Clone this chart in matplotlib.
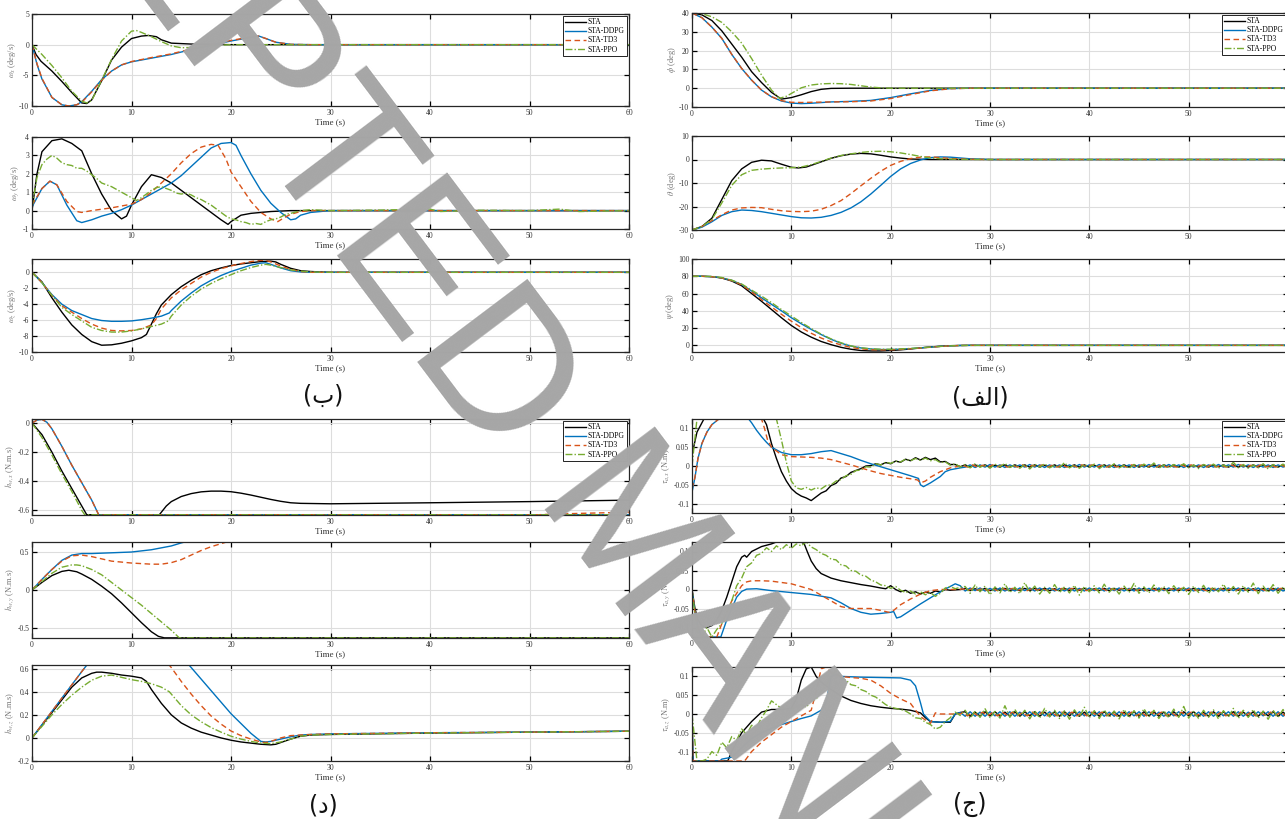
import numpy as np
import matplotlib
matplotlib.use('Agg')
import matplotlib.pyplot as plt
from matplotlib.ticker import FuncFormatter

plt.rcParams['font.family'] = 'Liberation Serif'
plt.rcParams['mathtext.fontset'] = 'stix'
plt.rcParams['axes.unicode_minus'] = False

W, H = 1285, 819

labels = ['STA', 'STA-DDPG', 'STA-TD3', 'STA-PPO']
colors = ['black', '#0072BD', '#D95319', '#77AC30']
styles = ['-', '-', (0, (4, 2.5)), (0, (5, 1.5, 1, 1.5))]

# ---------------- angular rates (deg/s) ----------------
wx_sta = [(0, 0), (0.4, -1.6), (0.9, -2.7), (2, -4.3), (3, -6.0), (4, -7.8), (5, -9.5), (5.5, -9.6),
          (6, -9.0), (7, -5.9), (8, -2.5), (9, -0.4), (10, 1.0), (11, 1.4), (11.7, 1.5), (12.5, 1.3),
          (13, 0.8), (14, 0.25), (16, 0.1), (20, 0), (60, 0)]
wx_ddpg = [(0, 0), (0.5, -3.2), (1, -5.6), (2, -8.6), (3, -9.8), (3.7, -10.0), (4.5, -9.8), (5, -9.3),
           (6, -7.6), (7, -5.7), (8, -4.3), (9, -3.3), (10, -2.8), (12, -2.2), (14, -1.6), (16, -0.8),
           (18, -0.1), (20, 0.6), (22, 1.2), (22.8, 1.4), (23.5, 1.0), (24.5, 0.4), (26, 0.05), (28, 0), (60, 0)]
wx_td3 = [(0, 0), (0.5, -3.1), (1, -5.5), (2, -8.6), (3, -9.8), (3.7, -10.0), (4.5, -9.8), (5, -9.4),
          (6, -7.7), (7, -5.8), (8, -4.3), (9, -3.3), (10, -2.75), (12, -2.1), (14, -1.5), (16, -0.7),
          (18, 0.0), (20, 0.7), (22, 1.25), (22.8, 1.4), (23.5, 1.0), (24.5, 0.4), (26, 0.05), (28, 0), (60, 0)]
wx_ppo = [(0, 0), (1, -1.6), (2, -3.4), (3, -5.4), (4, -7.6), (5, -9.2), (5.5, -9.5), (6, -9.1), (7, -5.8),
          (8, -2.4), (9, 0.6), (10, 2.2), (10.5, 2.3), (11, 2.0), (12, 1.3), (13, 0.5), (14, -0.2),
          (15, -0.5), (16, -0.45), (18, -0.15), (20, 0), (60, 0)]

wy_sta = [(0, 0.0), (0.5, 2.0), (1, 3.2), (2, 3.8), (3, 3.9), (4, 3.65), (5, 3.25), (6, 2.0), (7, 0.9),
          (8, 0.0), (9, -0.45), (9.5, -0.3), (10, 0.3), (11, 1.3), (12, 1.95), (13, 1.8), (14, 1.5),
          (15, 1.1), (16, 0.7), (17, 0.3), (18, -0.1), (19, -0.5), (19.7, -0.75), (20, -0.6), (21, -0.25),
          (22, -0.15), (24, -0.05), (26, 0), (60, 0)]
wy_ddpg = [(0, 0.2), (1, 1.2), (1.8, 1.6), (2.5, 1.4), (3.5, 0.3), (4.5, -0.55), (5, -0.65), (6, -0.5),
           (7, -0.3), (8, -0.15), (9, 0.05), (10, 0.3), (11, 0.6), (12, 0.9), (13, 1.2), (14, 1.5),
           (15, 1.9), (16, 2.4), (17, 2.9), (18, 3.4), (19, 3.65), (20, 3.7), (20.5, 3.55), (21, 3.0),
           (22, 2.0), (23, 1.1), (24, 0.4), (25, -0.1), (26, -0.5), (26.5, -0.45), (27, -0.25),
           (28, -0.1), (30, 0), (60, 0)]
wy_td3 = [(0, 0.3), (1, 1.2), (1.8, 1.6), (2.5, 1.4), (3.5, 0.5), (4.5, -0.05), (5, -0.1), (6, 0.0),
          (8, 0.15), (10, 0.35), (11, 0.6), (12, 1.0), (13, 1.5), (14, 2.0), (15, 2.6), (16, 3.1),
          (17, 3.45), (18, 3.6), (18.7, 3.55), (19.5, 2.8), (20, 2.1), (21, 1.3), (22, 0.5), (23, -0.1),
          (24, -0.45), (24.7, -0.6), (25.3, -0.4), (26, -0.2), (27, -0.05), (28, 0), (60, 0)]
wy_ppo = [(0, 0.2), (0.5, 1.8), (1, 2.5), (1.5, 2.8), (2, 3.0), (2.5, 2.85), (3, 2.6), (3.5, 2.5),
          (4, 2.45), (4.5, 2.3), (5, 2.3), (5.5, 2.15), (6, 1.95), (6.5, 1.75), (7, 1.5), (7.5, 1.4),
          (8, 1.3), (8.5, 1.15), (9, 1.0), (9.5, 0.85), (10, 0.7), (10.5, 0.55), (11, 0.7), (11.5, 0.9),
          (12, 1.1), (12.5, 1.25), (13, 1.3), (13.5, 1.2), (14, 1.1), (14.5, 0.95), (15, 0.9),
          (15.5, 0.95), (16, 0.85), (16.5, 0.7), (17, 0.6), (17.5, 0.45), (18, 0.3), (18.5, 0.1),
          (19, -0.1), (19.5, -0.3), (20, -0.45), (20.5, -0.5), (21, -0.6), (21.5, -0.65), (22, -0.75),
          (22.5, -0.7), (23, -0.75), (23.5, -0.6), (24, -0.5), (24.5, -0.45), (25, -0.35), (25.5, -0.2),
          (26, -0.15), (27, 0.0), (28, 0.05), (30, 0.0), (35, 0.03), (40, 0.08), (41, -0.05), (45, 0.02),
          (50, 0.0), (53, 0.08), (55, -0.05), (60, 0.0)]

wz_sta = [(0, 0), (1, -1.2), (2, -3.2), (3, -5.0), (4, -6.6), (5, -7.8), (6, -8.7), (7, -9.15), (8, -9.1),
          (9, -8.9), (10, -8.6), (11, -8.2), (11.5, -7.8), (12, -6.5), (12.5, -5.2), (13, -4.1),
          (14, -2.8), (15, -1.8), (16, -1.0), (17, -0.3), (18, 0.2), (19, 0.55), (20, 0.85), (21, 1.05),
          (22, 1.2), (23, 1.35), (24, 1.4), (24.5, 1.3), (25, 1.0), (26, 0.5), (27, 0.2), (28, 0.1),
          (30, 0), (60, 0)]
wz_ddpg = [(0, 0), (1, -1.3), (2, -2.8), (3, -4.0), (4, -4.8), (5, -5.3), (6, -5.8), (7, -6.05),
           (8, -6.15), (9, -6.15), (10, -6.1), (11, -5.95), (12, -5.75), (13, -5.5), (13.8, -5.1),
           (14, -4.8), (15, -3.6), (16, -2.6), (17, -1.7), (18, -1.0), (19, -0.4), (20, 0.1), (21, 0.5),
           (22, 0.9), (23, 1.15), (23.5, 1.2), (24, 1.0), (25, 0.55), (26, 0.2), (27, 0.05), (28, 0), (60, 0)]
wz_td3 = [(0, 0), (1, -1.3), (2, -2.9), (3, -4.2), (4, -5.0), (5, -5.8), (6, -6.5), (7, -7.0), (8, -7.3),
          (9, -7.35), (10, -7.3), (11, -7.1), (12, -6.6), (12.5, -5.8), (13, -4.6), (14, -3.2),
          (15, -2.2), (16, -1.4), (17, -0.6), (18, 0.0), (19, 0.45), (20, 0.8), (21, 1.1), (22, 1.35),
          (23, 1.5), (23.5, 1.5), (24, 1.3), (25, 0.8), (26, 0.35), (27, 0.1), (28, 0), (60, 0)]
wz_ppo = [(0, 0), (1, -1.3), (2, -2.9), (3, -4.4), (4, -5.3), (5, -6.1), (6, -6.9), (7, -7.3), (8, -7.5),
          (9, -7.5), (10, -7.35), (11, -7.1), (12, -6.8), (13, -6.5), (13.7, -6.1), (14, -5.5),
          (15, -4.1), (16, -3.0), (17, -2.1), (18, -1.4), (19, -0.8), (20, -0.3), (21, 0.2), (22, 0.6),
          (23, 0.9), (23.5, 1.0), (24, 0.9), (25, 0.6), (26, 0.3), (27, 0.15), (28, 0.05), (30, 0), (60, 0)]

# ---------------- attitude angles (deg) ----------------
phi_sta = [(0, 40), (1, 39), (2, 36), (3, 30.5), (4, 23.5), (5, 16.5), (6, 8.8), (7, 3.0), (8, -2.2),
           (9, -5.8), (10, -5.0), (11, -3.5), (12, -1.8), (13, -0.6), (14, -0.1), (16, 0), (60, 0)]
phi_ddpg = [(0, 40), (1, 37.5), (2, 32.5), (3, 26.5), (4, 18), (5, 10.5), (6, 4.3), (7, -1.0), (8, -4.6),
            (9, -6.8), (10, -7.9), (11, -8.2), (12, -8.0), (14, -7.3), (16, -7.0), (18, -6.5), (20, -5.0),
            (22, -3.0), (24, -1.2), (26, -0.2), (28, 0), (60, 0)]
phi_td3 = [(0, 40), (1, 37.5), (2, 32.5), (3, 26.5), (4, 18), (5, 10.5), (6, 4.3), (7, -1.0), (8, -4.5),
           (9, -6.6), (10, -7.5), (11, -7.6), (12, -7.5), (14, -7.3), (16, -7.2), (18, -6.8), (20, -5.5),
           (22, -3.4), (24, -1.4), (26, -0.3), (28, 0), (60, 0)]
phi_ppo = [(0, 40), (1, 39.6), (2, 38), (3, 35), (4, 30), (5, 24), (6, 15.8), (7, 7.0), (8, -1.0),
           (8.8, -5.4), (9.5, -4.3), (10, -2.8), (11, 0.2), (12, 1.7), (13, 2.3), (14, 2.5), (15, 2.4),
           (16, 2.0), (17, 1.3), (18, 0.6), (19, 0.2), (20, 0), (60, 0)]

theta_sta = [(0, -30), (1, -28.5), (2, -25), (3, -17), (4, -9), (5, -4), (6, -1.2), (7, -0.3), (8, -0.6),
             (9, -2), (10, -3.3), (10.7, -3.6), (11.5, -3.2), (12, -2.5), (13, -1.0), (14, 0.5), (15, 1.6),
             (16, 2.3), (17, 2.6), (18, 2.4), (19, 1.8), (20, 1.1), (21, 0.6), (22, 0.2), (24, 0), (60, 0)]
theta_ddpg = [(0, -30), (1, -28.8), (2, -26.5), (3, -23.8), (4, -22.2), (5, -21.5), (6, -21.7), (7, -22.2),
              (8, -22.9), (9, -23.6), (10, -24.3), (11, -24.8), (12, -24.9), (13, -24.6), (14, -23.8),
              (15, -22.5), (16, -20.6), (17, -18.0), (18, -14.7), (19, -11.0), (20, -7.2), (21, -4.0),
              (22, -1.7), (23, -0.2), (24, 0.8), (25, 1.1), (26, 1.0), (28, 0.3), (30, 0), (60, 0)]
theta_td3 = [(0, -30), (1, -28.5), (2, -26), (3, -23.5), (4, -21.5), (5, -20.6), (6, -20.4), (7, -20.5),
             (8, -21.2), (9, -21.8), (10, -22.1), (11, -22.2), (12, -22.0), (13, -21.2), (14, -19.6),
             (15, -17.5), (16, -14.5), (17, -11.2), (18, -8.0), (19, -5.0), (20, -2.5), (21, -0.8),
             (22, 0.4), (23, 1.0), (24, 1.1), (25, 0.8), (26, 0.4), (28, 0.1), (30, 0), (60, 0)]
theta_ppo = [(0, -30), (1, -28.5), (2, -25.5), (3, -18.5), (4, -11), (5, -6.5), (6, -4.6), (7, -4.1),
             (8, -3.8), (9, -3.6), (10, -3.5), (11, -3.2), (12, -2.2), (13, -0.8), (14, 0.6), (15, 1.7),
             (16, 2.4), (17, 3.0), (18, 3.4), (19, 3.5), (20, 3.3), (21, 2.8), (22, 2.1), (23, 1.3),
             (24, 0.7), (25, 0.3), (27, 0.05), (30, 0), (60, 0)]

t_psi = [0, 1, 2, 3, 4, 5, 6, 7, 8, 9, 10, 11, 12, 13, 14, 15, 16, 17, 18, 19, 20, 21, 22, 23, 24, 25,
         26, 27, 28, 60]
psi_sta = [80, 80, 79.5, 78, 74.5, 69, 60, 51, 41.5, 32, 23, 15.5, 9.5, 4.5, 0.8, -2.3, -4.5, -6, -6.5,
           -6.5, -6.0, -5.2, -4.2, -3.0, -1.9, -1.0, -0.4, -0.1, 0, 0]
psi_ddpg = [80, 80, 79.6, 78.2, 75.3, 70.5, 63, 55, 47.5, 40, 32, 25, 18.5, 12.5, 7, 2.5, -0.8, -3, -4.2,
            -4.8, -4.8, -4.4, -3.8, -2.9, -2.0, -1.2, -0.6, -0.2, 0, 0]
psi_td3 = [80, 80, 79.5, 78, 75, 70, 62, 53, 44.5, 36, 28, 20.5, 14, 8.5, 4, 0.5, -2.5, -4, -5, -5.3,
           -5.2, -4.7, -4.0, -3.1, -2.2, -1.3, -0.6, -0.2, 0, 0]
psi_ppo = [80, 80, 79.8, 78.6, 75.5, 71, 64, 57, 49.5, 41.5, 34, 26.5, 19.5, 13, 7.5, 3, -0.6, -2.8, -4,
           -4.5, -4.5, -4.1, -3.6, -2.8, -2.0, -1.2, -0.6, -0.2, 0, 0]

# ---------------- wheel momentum (N.m.s) ----------------
hx_sta = [(0, 0), (0.5, -0.04), (1, -0.08), (2, -0.2), (3, -0.33), (4, -0.45), (5, -0.57), (5.5, -0.63),
          (12.8, -0.63), (13.5, -0.57), (14, -0.54), (15, -0.505), (16, -0.485), (17, -0.473),
          (18, -0.468), (19, -0.468), (20, -0.472), (21, -0.482), (22, -0.495), (23, -0.51), (24, -0.525),
          (25, -0.538), (26, -0.548), (27, -0.552), (30, -0.555), (40, -0.548), (50, -0.54), (60, -0.53)]
hx_ddpg = [(0, 0), (0.5, 0.02), (1, 0.025), (1.5, 0.005), (2, -0.04), (3, -0.16), (4, -0.29), (5, -0.41),
           (6, -0.53), (6.7, -0.63), (60, -0.63)]
hx_td3 = [(0, 0), (0.5, 0.02), (1, 0.025), (1.5, 0.005), (2, -0.04), (3, -0.16), (4, -0.29), (5, -0.41),
          (6, -0.53), (6.7, -0.63), (51, -0.63), (52, -0.627), (55, -0.621), (58, -0.616), (60, -0.612)]
hx_ppo = [(0, 0), (0.5, -0.05), (1, -0.1), (2, -0.22), (3, -0.35), (4, -0.47), (5, -0.6), (5.3, -0.63),
          (60, -0.63)]

hy_sta = [(0, 0), (1, 0.1), (2, 0.19), (3, 0.245), (3.7, 0.26), (4.5, 0.24), (5, 0.21), (6, 0.14),
          (7, 0.05), (8, -0.05), (9, -0.17), (10, -0.3), (11, -0.43), (12, -0.55), (12.7, -0.61),
          (13.3, -0.63), (60, -0.63)]
hy_ddpg = [(0, 0), (1, 0.14), (2, 0.27), (3, 0.39), (4, 0.46), (5, 0.48), (6, 0.48), (8, 0.49),
           (10, 0.5), (12, 0.53), (14, 0.58), (15, 0.62), (15.3, 0.63), (60, 0.63)]
hy_td3 = [(0, 0), (1, 0.14), (2, 0.27), (3, 0.38), (4, 0.45), (5, 0.46), (6, 0.44), (7, 0.41), (8, 0.38),
          (10, 0.355), (12, 0.34), (13, 0.34), (14, 0.36), (15, 0.4), (16, 0.46), (17, 0.52), (18, 0.57),
          (19, 0.61), (19.5, 0.63), (60, 0.63)]
hy_ppo = [(0, 0), (1, 0.11), (2, 0.22), (3, 0.3), (4, 0.33), (4.5, 0.33), (5, 0.32), (6, 0.27), (7, 0.2),
          (8, 0.1), (9, 0.0), (10, -0.1), (11, -0.2), (12, -0.31), (13, -0.42), (14, -0.53),
          (14.8, -0.63), (60, -0.63)]

hz_sta = [(0, 0), (1, 0.11), (2, 0.22), (3, 0.33), (4, 0.44), (5, 0.52), (6, 0.56), (6.5, 0.57), (7, 0.57),
          (8, 0.56), (9, 0.545), (10, 0.535), (11, 0.52), (11.5, 0.49), (12, 0.42), (13, 0.3), (14, 0.2),
          (15, 0.13), (16, 0.085), (17, 0.05), (18, 0.025), (19, 0.0), (20, -0.02), (21, -0.035),
          (22, -0.045), (23, -0.055), (24, -0.06), (24.5, -0.055), (25, -0.04), (26, -0.01), (27, 0.015),
          (28, 0.025), (30, 0.03), (40, 0.042), (50, 0.05), (60, 0.058)]
hz_ddpg = [(0, 0), (1, 0.115), (2, 0.23), (3, 0.345), (4, 0.46), (5, 0.575), (5.5, 0.63), (15.8, 0.63),
           (16, 0.61), (18, 0.41), (20, 0.21), (22, 0.04), (23, -0.03), (23.5, -0.035), (24, -0.03),
           (25, -0.01), (26, 0.01), (27, 0.025), (28, 0.03), (30, 0.035), (40, 0.045), (50, 0.05),
           (60, 0.058)]
hz_td3 = [(0, 0), (1, 0.115), (2, 0.23), (3, 0.345), (4, 0.46), (5, 0.575), (5.5, 0.63), (13.8, 0.63),
          (14, 0.61), (15, 0.49), (16, 0.38), (17, 0.28), (18, 0.19), (19, 0.12), (20, 0.06), (21, 0.02),
          (22, -0.01), (23, -0.035), (23.5, -0.04), (24, -0.03), (25, 0.0), (26, 0.02), (27, 0.025),
          (28, 0.03), (30, 0.035), (40, 0.045), (50, 0.05), (60, 0.058)]
hz_ppo = [(0, 0), (1, 0.1), (2, 0.2), (3, 0.29), (4, 0.37), (5, 0.44), (6, 0.5), (7, 0.535), (8, 0.545),
          (9, 0.525), (10, 0.505), (11, 0.49), (12, 0.47), (13, 0.44), (13.8, 0.4), (14.5, 0.33),
          (15, 0.28), (16, 0.2), (17, 0.14), (18, 0.09), (19, 0.05), (20, 0.015), (21, -0.01),
          (22, -0.03), (23, -0.045), (24, -0.05), (25, -0.035), (26, -0.01), (27, 0.015), (28, 0.025),
          (30, 0.03), (40, 0.042), (50, 0.05), (60, 0.058)]

# ---------------- actuator torques (N.m) ----------------
tax_sta = [(0, 0.03), (0.5, 0.09), (1.2, 0.125), (7.2, 0.125), (7.5, 0.11), (8, 0.06), (8.5, 0.02),
           (9, -0.015), (9.5, -0.04), (10, -0.06), (10.5, -0.072), (11, -0.08), (11.5, -0.085),
           (12, -0.092), (12.3, -0.086), (13, -0.072), (13.5, -0.066), (14, -0.052), (14.5, -0.046),
           (15, -0.032), (15.5, -0.028), (16, -0.017), (16.5, -0.012), (17, -0.007), (17.5, 0.0),
           (18, 0.001), (18.5, 0.006), (19, 0.003), (19.5, 0.009), (20, 0.006), (20.5, 0.013), (21, 0.01),
           (21.5, 0.018), (22, 0.014), (22.5, 0.022), (23, 0.016), (23.5, 0.023), (24, 0.017),
           (24.5, 0.021), (25, 0.011), (25.5, 0.012), (26, 0.004), (26.5, 0.004), (27, -0.002)]
tax_ddpg = [(0, -0.07), (0.3, -0.03), (0.6, 0.02), (1, 0.06), (1.5, 0.09), (2, 0.11), (2.7, 0.125),
            (5.7, 0.125), (6, 0.115), (6.5, 0.095), (7, 0.078), (7.5, 0.063), (8, 0.05), (9, 0.036),
            (10, 0.03), (11, 0.03), (12, 0.033), (13, 0.038), (14, 0.041), (15, 0.033), (16, 0.025),
            (17, 0.015), (18, 0.006), (19, -0.002), (20, -0.01), (21, -0.018), (22, -0.026), (22.8, -0.033),
            (23, -0.05), (23.3, -0.055), (24, -0.045), (25, -0.028), (25.5, -0.015), (26, -0.01),
            (27, -0.005)]
tax_td3 = [(0, -0.06), (0.3, -0.03), (0.6, 0.02), (1, 0.06), (1.5, 0.09), (2, 0.11), (2.7, 0.125),
           (7, 0.125), (7.3, 0.1), (7.6, 0.07), (8, 0.05), (9, 0.03), (10, 0.025), (11, 0.024),
           (12, 0.023), (13, 0.021), (14, 0.017), (15, 0.01), (16, 0.003), (17, -0.005), (18, -0.013),
           (19, -0.02), (20, -0.025), (21, -0.03), (22, -0.034), (22.7, -0.037), (23, -0.045),
           (23.5, -0.04), (24, -0.03), (25, -0.015), (26, -0.005), (27, 0.0)]
# PPO torque, sampled every 0.5 s from t = 0
tax_ppo = [0.0, 0.125, 0.125, 0.125, 0.125, 0.125, 0.125, 0.125, 0.125, 0.125,
           0.125, 0.125, 0.125, 0.125, 0.125, 0.125, 0.125, 0.125,
           0.07, 0.01, -0.04, -0.058, -0.062, -0.057, -0.064, -0.058, -0.061, -0.052,
           -0.05, -0.04, -0.036, -0.026, -0.022, -0.012, -0.011, -0.002, -0.003, 0.006,
           0.003, 0.01, 0.007, 0.013, 0.011, 0.018, 0.014, 0.02, 0.015, 0.021,
           0.014, 0.017, 0.009, 0.011, 0.002, 0.006, -0.003,
           0.004, -0.005, 0.006, -0.003, 0.002, -0.006, 0.005, -0.002, 0.007, -0.004,
           0.003, -0.006, 0.004, -0.008, 0.005, -0.003, 0.006, -0.005, 0.002, -0.004,
           0.009, -0.005, 0.003, -0.006, 0.004, -0.003, 0.005, -0.007, 0.003, -0.004,
           0.006, -0.005, 0.002, -0.006, 0.004, -0.003, 0.005, -0.004, 0.008, -0.006,
           0.003, -0.005, 0.004, -0.003, 0.006, -0.005, 0.003, -0.007, 0.004, -0.002,
           0.005, -0.006, 0.003, -0.004, 0.01, -0.005, 0.004, -0.006, 0.003, -0.005,
           0.006, -0.008, 0.004, -0.003, 0.005, -0.006]

tay_sta = [(0, 0), (0.3, -0.05), (0.6, -0.08), (1, -0.095), (1.5, -0.1), (2, -0.095), (2.5, -0.08),
           (3, -0.055), (3.5, -0.02), (4, 0.02), (4.5, 0.06), (5, 0.085), (5.3, 0.09), (5.5, 0.085),
           (6, 0.1), (7, 0.113), (8, 0.12), (8.5, 0.125), (11, 0.125), (11.3, 0.12), (11.6, 0.1),
           (12, 0.075), (12.5, 0.055), (13, 0.042), (14, 0.03), (15, 0.023), (16, 0.018), (17, 0.013),
           (18, 0.009), (19, 0.004), (19.5, 0.002), (20, 0.01), (20.5, 0.0), (21, -0.006), (21.5, -0.002),
           (22, -0.01), (22.5, -0.006), (23, -0.012), (23.5, -0.007), (24, -0.01), (24.5, -0.004),
           (25, -0.006), (25.5, 0.0), (26, -0.002), (27, 0.0)]
tay_ddpg = [(0, 0), (0.3, -0.06), (0.6, -0.1), (1, -0.125), (2.9, -0.125), (3.5, -0.08), (4, -0.05),
            (4.5, -0.02), (5, -0.005), (5.5, 0.001), (6.5, 0.002), (8, -0.003), (10, -0.008), (12, -0.013),
            (14, -0.022), (15, -0.035), (16, -0.05), (17, -0.06), (18, -0.065), (19, -0.063), (20, -0.06),
            (20.3, -0.058), (20.6, -0.075), (21, -0.072), (22, -0.055), (23, -0.038), (24, -0.022),
            (25, -0.006), (26, 0.008), (26.5, 0.015), (27, 0.01)]
tay_td3 = [(0, 0), (0.3, -0.06), (0.6, -0.1), (1, -0.125), (2.5, -0.125), (3, -0.09), (4, -0.03),
           (5, 0.01), (5.5, 0.02), (6, 0.023), (7, 0.023), (8, 0.022), (10, 0.015), (12, 0.0),
           (13, -0.015), (14, -0.03), (15, -0.045), (16, -0.05), (17, -0.05), (18, -0.05), (19, -0.055),
           (19.8, -0.06), (20.3, -0.055), (21, -0.04), (22, -0.025), (23, -0.012), (24, -0.003),
           (25, 0.0), (27, 0.0)]
tay_ppo = [0.0, -0.11, -0.125, -0.1, -0.125, -0.105, -0.09, -0.06, -0.03, 0.01,
           0.03, 0.06, 0.07, 0.09, 0.095, 0.11, 0.1, 0.115, 0.105, 0.118,
           0.108, 0.12, 0.115, 0.125, 0.112, 0.105, 0.095, 0.09, 0.08, 0.078,
           0.065, 0.062, 0.05, 0.048, 0.038, 0.035, 0.025, 0.02, 0.012, 0.01,
           0.003, 0.008, -0.002, -0.008, -0.004, -0.012, -0.006, -0.014, -0.008, -0.018,
           -0.01, 0.004, 0.008, 0.002, 0.006,
           0.008, -0.01, 0.012, -0.006, 0.009, -0.014, 0.007, -0.009, 0.015, -0.008,
           0.006, -0.011, 0.018, -0.007, 0.009, -0.012, 0.006, -0.01, 0.013, -0.008,
           0.007, -0.009, 0.011, -0.015, 0.008, -0.006, 0.01, -0.009, 0.014, -0.007,
           0.006, -0.012, 0.009, -0.008, 0.016, -0.01, 0.007, -0.009, 0.012, -0.006,
           0.008, -0.011, 0.01, -0.007, 0.006, -0.013, 0.009, -0.008, 0.011, -0.01,
           0.007, -0.006, 0.014, -0.009, 0.008, -0.012, 0.01, -0.007, 0.017, -0.011,
           0.009, -0.008, 0.013, -0.01, 0.007, -0.009]

taz_sta = [(0, 0), (0.1, -0.125), (3.6, -0.125), (4, -0.1), (5, -0.05), (6, -0.02), (7, 0.005),
           (8, 0.012), (9, 0.012), (10, 0.015), (10.5, 0.04), (11, 0.09), (11.5, 0.12), (12, 0.125),
           (12.5, 0.1), (13, 0.085), (14, 0.065), (15, 0.048), (16, 0.036), (17, 0.028), (18, 0.022),
           (19, 0.018), (20, 0.015), (21, 0.013), (22, 0.01), (23, 0.003), (23.5, -0.01), (24, -0.02),
           (25, -0.022), (26, -0.022), (26.5, 0.0), (27, 0.004)]
taz_ddpg = [(0, 0), (0.1, -0.125), (2.8, -0.125), (3, -0.12), (4, -0.115), (5, -0.09), (6, -0.065),
            (7, -0.05), (8, -0.038), (9, -0.028), (10, -0.02), (11, -0.012), (12, -0.005), (13, 0.01),
            (13.5, 0.03), (14, 0.1), (14.5, 0.105), (15, 0.1), (17, 0.098), (19, 0.097), (21, 0.096),
            (22, 0.09), (22.5, 0.075), (23, 0.03), (23.3, 0.0), (24, -0.02), (25, -0.022), (26, -0.02),
            (26.5, 0.0), (27, 0.004)]
taz_td3 = [(0, 0), (0.1, -0.125), (5.3, -0.125), (6, -0.1), (7, -0.075), (8, -0.055), (9, -0.035),
           (10, -0.02), (11, -0.005), (12, 0.01), (12.5, 0.06), (13, 0.12), (13.5, 0.125), (14, 0.11),
           (15, 0.1), (16, 0.097), (17, 0.095), (18, 0.09), (19, 0.075), (20, 0.055), (21, 0.04),
           (22, 0.028), (23, -0.007), (24, -0.025), (24.5, 0.003), (25, 0.0), (27, 0.0)]
taz_ppo = [0.0, -0.125, -0.125, -0.12, -0.1, -0.11, -0.075, -0.09, -0.06, -0.07,
           -0.04, -0.055, -0.03, -0.035, -0.01, 0.01, 0.035, 0.025, 0.015, 0.022,
           0.012, 0.02, 0.025, 0.018, 0.035, 0.04, 0.06, 0.075, 0.1, 0.115,
           0.095, 0.09, 0.078, 0.075, 0.065, 0.06, 0.05, 0.045, 0.035, 0.025,
           0.018, 0.015, 0.012, 0.008, 0.0, -0.01, -0.012, -0.022, -0.028, -0.04,
           -0.035, -0.02, -0.01, 0.005, -0.004,
           0.01, -0.012, 0.008, -0.009, 0.014, -0.01, 0.007, -0.011, 0.022, -0.009,
           0.012, -0.008, 0.01, -0.013, 0.009, -0.011, 0.015, -0.008, 0.01, -0.012,
           0.009, -0.014, 0.011, -0.008, 0.018, -0.01, 0.009, -0.012, 0.011, -0.009,
           0.008, -0.013, 0.012, -0.01, 0.009, -0.011, 0.014, -0.008, 0.01, -0.012,
           0.009, -0.01, 0.013, -0.009, 0.02, -0.011, 0.008, -0.012, 0.01, -0.009,
           0.011, -0.013, 0.009, -0.008, 0.015, -0.012, 0.01, -0.009, 0.012, -0.011,
           0.008, -0.014, 0.01, -0.009, 0.012, -0.01]

# steady-state ripple after 27 s, every 0.5 s (x 1e-3 N.m)
tail_tax_sta = [3, -3, 3, -2, 3, -3, 2, -3, 3, -3,
                3, -2, 3, -3, 3, -3, 2, -3, 3, -3,
                3, -2, 3, -3, 3, -3, 2, -3, 3, -3,
                3, -2, 3, -3, 3, -3, 2, -3, 3, -3,
                3, -2, 3, -3, 3, -3, 2, -3, 3, -3,
                3, -2, 3, -3, 3, -3, 2, -3, 3, -3,
                3, -2, 3, -3, 3, -3, 2, -3]
tail_tax_ddpg = [-3, 3, -4, 3, -3, 4, -3, 3, -4, 3,
                 -3, 3, -3, 4, -3, 3, -4, 3, -3, 3,
                 -4, 3, -3, 4, -3, 3, -3, 4, -3, 3,
                 -4, 3, -3, 3, -4, 3, -3, 4, -3, 3,
                 -3, 4, -3, 3, -4, 3, -3, 3, -4, 3,
                 -3, 4, -3, 3, -3, 4, -3, 3, -4, 3,
                 -3, 3, -4, 3, -3, 4, -3, 3]
tail_tax_td3 = [2, -3, 3, -3, 2, -3, 3, -2, 3, -3,
                2, -3, 3, -3, 2, -2, 3, -3, 2, -3,
                3, -3, 2, -3, 3, -2, 3, -3, 2, -3,
                3, -3, 2, -3, 3, -2, 3, -3, 2, -3,
                3, -3, 2, -3, 3, -2, 3, -3, 2, -3,
                3, -3, 2, -3, 3, -2, 3, -3, 2, -3,
                3, -3, 2, -3, 3, -2, 3, -3]
tail_tay_sta = [3, -3, 2, -3, 3, -3, 3, -2, 3, -3,
                2, -3, 3, -3, 3, -2, 3, -3, 2, -3,
                3, -3, 3, -2, 3, -3, 2, -3, 3, -3,
                3, -2, 3, -3, 2, -3, 3, -3, 3, -2,
                3, -3, 2, -3, 3, -3, 3, -2, 3, -3,
                2, -3, 3, -3, 3, -2, 3, -3, 2, -3,
                3, -3, 3, -2, 3, -3, 2, -3]
tail_tay_ddpg = [-4, 4, -3, 4, -4, 3, -4, 4, -4, 3,
                 -4, 4, -3, 4, -4, 4, -3, 4, -4, 3,
                 -4, 4, -4, 3, -4, 4, -3, 4, -4, 4,
                 -3, 4, -4, 3, -4, 4, -4, 3, -4, 4,
                 -3, 4, -4, 4, -3, 4, -4, 3, -4, 4,
                 -4, 3, -4, 4, -3, 4, -4, 4, -3, 4,
                 -4, 3, -4, 4, -4, 3, -4, 4]
tail_tay_td3 = [2, -3, 3, -2, 3, -3, 2, -3, 3, -2,
                3, -3, 2, -3, 3, -2, 3, -3, 2, -3,
                3, -2, 3, -3, 2, -3, 3, -2, 3, -3,
                2, -3, 3, -2, 3, -3, 2, -3, 3, -2,
                3, -3, 2, -3, 3, -2, 3, -3, 2, -3,
                3, -2, 3, -3, 2, -3, 3, -2, 3, -3,
                2, -3, 3, -2, 3, -3, 2, -3]
tail_taz_sta = [6, -6, 5, -6, 6, -5, 6, -6, 5, -6,
                6, -6, 6, -5, 6, -6, 5, -6, 6, -6,
                6, -5, 6, -6, 5, -6, 6, -6, 6, -5,
                6, -6, 5, -6, 6, -6, 6, -5, 6, -6,
                5, -6, 6, -6, 6, -5, 6, -6, 5, -6,
                6, -6, 6, -5, 6, -6, 5, -6, 6, -6,
                6, -5, 6, -6, 5, -6, 6, -6]
tail_taz_ddpg = [-6, 6, -6, 5, -6, 6, -5, 6, -6, 6,
                 -6, 5, -6, 6, -6, 6, -5, 6, -6, 6,
                 -6, 5, -6, 6, -5, 6, -6, 6, -6, 5,
                 -6, 6, -6, 6, -5, 6, -6, 6, -6, 5,
                 -6, 6, -5, 6, -6, 6, -6, 5, -6, 6,
                 -6, 6, -5, 6, -6, 6, -6, 5, -6, 6,
                 -5, 6, -6, 6, -6, 5, -6, 6]
tail_taz_td3 = [4, -5, 5, -4, 5, -5, 4, -5, 5, -4,
                5, -5, 4, -5, 5, -4, 5, -5, 4, -5,
                5, -4, 5, -5, 4, -5, 5, -4, 5, -5,
                4, -5, 5, -4, 5, -5, 4, -5, 5, -4,
                5, -5, 4, -5, 5, -4, 5, -5, 4, -5,
                5, -4, 5, -5, 4, -5, 5, -4, 5, -5,
                4, -5, 5, -4, 5, -5, 4, -5]


def pts(pairs, tail=None, tail_start=27.5):
    t, v = np.array(pairs, dtype=float).T
    if tail is not None:
        tt = tail_start + 0.5 * np.arange(len(tail))
        t = np.concatenate([t, tt])
        v = np.concatenate([v, np.array(tail, dtype=float) * 1e-3])
    return t, v


def sampled(values):
    v = np.array(values, dtype=float)
    return 0.5 * np.arange(len(v)), v


fig = plt.figure(figsize=(W / 100, H / 100), dpi=100)


def make_ax(col, top, bot, ylim, yticks, ylabel):
    x0, x1 = (32, 629) if col == 0 else (692, 1288)
    ax = fig.add_axes([x0 / W, 1 - bot / H, (x1 - x0) / W, (bot - top) / H])
    ax.set_xlim(0, 60)
    ax.set_ylim(*ylim)
    ax.set_xticks(range(0, 61, 10))
    ax.set_yticks(yticks)
    ax.yaxis.set_major_formatter(FuncFormatter(lambda v, p: f'{v:g}'))
    ax.grid(True, color='#dddddd', lw=0.8)
    ax.set_axisbelow(True)
    ax.tick_params(direction='in', length=3.5, width=0.9, top=True, right=True,
                   labelsize=5.5, pad=2, labelcolor='#333333')
    ax.set_xlabel('Time (s)', fontsize=6.5, labelpad=1, color='#333333')
    ax.set_ylabel(ylabel, fontsize=6, labelpad=1, color='#777777')
    for s in ax.spines.values():
        s.set_color('#262626')
        s.set_linewidth(0.9)
    return ax


def draw(ax, curves, legend=False):
    for (t, v), lab, c, ls in zip(curves, labels, colors, styles):
        ax.plot(t, v, color=c, ls=ls, lw=1.0, label=lab)
    if legend:
        leg = ax.legend(loc='upper right', fontsize=5.5, fancybox=False, edgecolor='#222222',
                        framealpha=1, borderpad=0.25, labelspacing=0.15, handlelength=2.8,
                        handletextpad=0.2, borderaxespad=0.3)
        leg.get_frame().set_linewidth(0.7)


# (ب) angular rates
ax = make_ax(0, 14, 106, (-10, 5), [-10, -5, 0, 5], r'$\omega_x$ (deg/s)')
draw(ax, [pts(wx_sta), pts(wx_ddpg), pts(wx_td3), pts(wx_ppo)], legend=True)
ax = make_ax(0, 137, 229, (-1, 4), [-1, 0, 1, 2, 3, 4], r'$\omega_y$ (deg/s)')
draw(ax, [pts(wy_sta), pts(wy_ddpg), pts(wy_td3), pts(wy_ppo)])
ax = make_ax(0, 259, 352, (-10, 1.67), [-10, -8, -6, -4, -2, 0], r'$\omega_z$ (deg/s)')
draw(ax, [pts(wz_sta), pts(wz_ddpg), pts(wz_td3), pts(wz_ppo)])

# (الف) attitude angles
ax = make_ax(1, 13, 107, (-10, 40), [-10, 0, 10, 20, 30, 40], r'$\phi$ (deg)')
draw(ax, [pts(phi_sta), pts(phi_ddpg), pts(phi_td3), pts(phi_ppo)], legend=True)
ax = make_ax(1, 136, 230, (-30, 10), [-30, -20, -10, 0, 10], r'$\theta$ (deg)')
draw(ax, [pts(theta_sta), pts(theta_ddpg), pts(theta_td3), pts(theta_ppo)])
ax = make_ax(1, 259, 352, (-7.7, 100), [0, 20, 40, 60, 80, 100], r'$\psi$ (deg)')
draw(ax, [(t_psi, psi_sta), (t_psi, psi_ddpg), (t_psi, psi_td3), (t_psi, psi_ppo)])

# (د) wheel momentum
ax = make_ax(0, 419, 515, (-0.632, 0.0275), [-0.6, -0.4, -0.2, 0], r'$h_{w,x}$ (N.m.s)')
draw(ax, [pts(hx_sta), pts(hx_ddpg), pts(hx_td3), pts(hx_ppo)], legend=True)
ax = make_ax(0, 542, 638, (-0.632, 0.632), [-0.5, 0, 0.5], r'$h_{w,y}$ (N.m.s)')
draw(ax, [pts(hy_sta), pts(hy_ddpg), pts(hy_td3), pts(hy_ppo)])
ax = make_ax(0, 665, 761, (-0.2, 0.632), [-0.2, 0, 0.2, 0.4, 0.6], r'$h_{w,z}$ (N.m.s)')
draw(ax, [pts(hz_sta), pts(hz_ddpg), pts(hz_td3), pts(hz_ppo)])

# (ج) actuator torques
tq = [-0.1, -0.05, 0, 0.05, 0.1]
ax = make_ax(1, 419, 513, (-0.125, 0.125), tq, r'$\tau_{a,x}$ (N.m)')
draw(ax, [pts(tax_sta, tail_tax_sta), pts(tax_ddpg, tail_tax_ddpg),
          pts(tax_td3, tail_tax_td3, 27.25), sampled(tax_ppo)], legend=True)
ax = make_ax(1, 542, 637, (-0.125, 0.125), tq, r'$\tau_{a,y}$ (N.m)')
draw(ax, [pts(tay_sta, tail_tay_sta), pts(tay_ddpg, tail_tay_ddpg),
          pts(tay_td3, tail_tay_td3, 27.25), sampled(tay_ppo)])
ax = make_ax(1, 667, 761, (-0.125, 0.125), tq, r'$\tau_{a,z}$ (N.m)')
draw(ax, [pts(taz_sta, tail_taz_sta), pts(taz_ddpg, tail_taz_ddpg),
          pts(taz_td3, tail_taz_td3, 27.25), sampled(taz_ppo)])

# panel captions
cap = dict(ha='center', va='center', fontsize=17, family='DejaVu Sans', color='#111111')
fig.text(323 / W, 1 - 396 / H, '(\u0628)', **cap)
fig.text(980 / W, 1 - 397 / H, '(\uFED2\uFEDF\u0627)', **cap)
fig.text(323 / W, 1 - 805 / H, '(\u062F)', **cap)
fig.text(970 / W, 1 - 804 / H, '(\u062C)', **cap)

# diagonal stamp across the sheet
wm = dict(fontsize=144, color='#a6a6a6', family='Liberation Sans', rotation=-53,
          rotation_mode='anchor', va='baseline', zorder=20)
fig.text(494 / W, 1 - 465 / H, 'ACCEPTED', ha='right', **wm)
fig.text(527 / W, 1 - 509 / H, 'MANUSCRIPT', ha='left', **wm)

fig.savefig('out.png', dpi=100)
